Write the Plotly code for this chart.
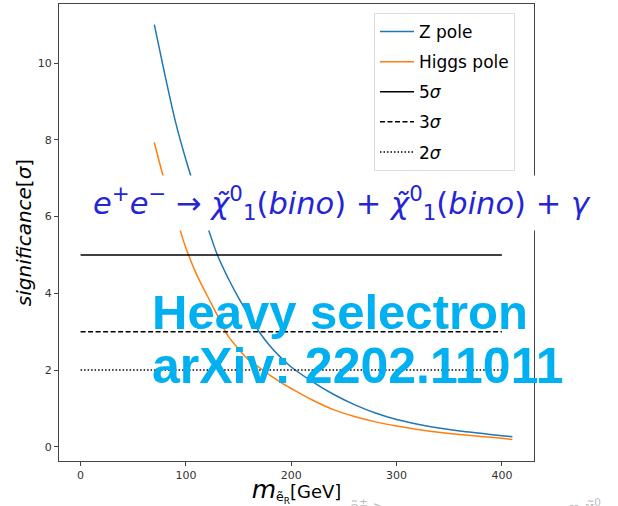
import plotly.graph_objects as go

# ---- data ----
mass = [70, 80, 90, 100, 110, 120, 130, 140, 150, 160, 170, 180, 190, 200,
        220, 240, 260, 280, 300, 320, 340, 360, 380, 400, 410]
z_pole = [11.0, 9.7, 8.48, 7.48, 6.6, 5.78, 4.99, 4.4, 3.88, 3.42, 2.98, 2.62,
          2.33, 2.08, 1.7, 1.37, 1.1, 0.88, 0.71, 0.59, 0.49, 0.41, 0.35, 0.29, 0.26]
higgs_pole = [7.93, 6.9, 6.05, 5.18, 4.5, 3.95, 3.42, 2.89, 2.55, 2.25, 2.06,
              1.86, 1.68, 1.52, 1.22, 0.97, 0.79, 0.65, 0.54, 0.45, 0.38, 0.32,
              0.27, 0.22, 0.19]
sigma_levels = [5, 3, 2]
sigma_names = ["5<i>σ</i>", "3<i>σ</i>", "2<i>σ</i>"]
sigma_dash = ["solid", "5px,2.5px", "1.5px,2px"]
hline_x = [0, 400]
x_ticks = [0, 100, 200, 300, 400]
y_ticks = [0, 2, 4, 6, 8, 10]

fig = go.Figure()
fig.add_trace(go.Scatter(x=mass, y=z_pole, mode="lines", name="Z pole",
                         line=dict(color="#1f77b4", width=1.5, shape="spline"),
                         legendgroup="a"))
fig.add_trace(go.Scatter(x=mass, y=higgs_pole, mode="lines", name="Higgs pole",
                         line=dict(color="#ff7f0e", width=1.5, shape="spline"),
                         legendgroup="b"))
for i, (lvl, nm, ds) in enumerate(zip(sigma_levels, sigma_names, sigma_dash)):
    fig.add_trace(go.Scatter(x=hline_x, y=[lvl, lvl], mode="lines", name=nm,
                             line=dict(color="black", width=1.5, dash=ds),
                             legendgroup="g%d" % i))

W, H = 618, 506
L, R, T, B = 59, 84, 4, 45
pw, ph = W - L - R, H - T - B

def px(xp):
    return (xp - L) / pw

def py(yp):
    return (H - B - yp) / ph

axis_common = dict(showline=True, mirror=True, linecolor="#444", linewidth=1,
                   ticks="outside", ticklen=4, tickcolor="#444", showgrid=False,
                   zeroline=False, tickfont=dict(family="DejaVu Sans", size=11, color="#333"))

fig.update_layout(
    width=W, height=H,
    margin=dict(l=L, r=R, t=T, b=B, autoexpand=False),
    paper_bgcolor="white", plot_bgcolor="white",
    xaxis=dict(range=[-20.5, 430.5], tickvals=x_ticks, **axis_common,
               title=dict(text="<span style=\"font-size:25px\"><i>m</i></span><sub>ẽ<sub>R</sub></sub>[GeV]",
                          font=dict(family="DejaVu Sans", size=18, color="black"),
                          standoff=6)),
    yaxis=dict(range=[-0.37, 11.54], tickvals=y_ticks, **axis_common,
               title=dict(text="<i>significance</i>[<i>σ</i>]",
                          font=dict(family="DejaVu Sans", size=20, color="black"),
                          standoff=0)),
    legend=dict(x=px(374), y=py(13), xanchor="left", yanchor="top",
                bgcolor="white", bordercolor="#dcdcdc", borderwidth=1,
                font=dict(family="DejaVu Sans", size=17, color="black"),
                traceorder="grouped", tracegroupgap=5, itemwidth=34,
                entrywidth=100, entrywidthmode="pixels"),
    showlegend=True,
)

eq = ("<i>e</i><sup>+</sup><i>e</i><sup>−</sup> → <i>χ̃</i><sup>0</sup><sub>1</sub>(<i>bino</i>)"
      " + <i>χ̃</i><sup>0</sup><sub>1</sub>(<i>bino</i>) + <i>γ</i>")
fig.add_annotation(xref="paper", yref="paper", x=px(342), y=py(203),
                   xanchor="center", yanchor="middle", showarrow=False, text=eq,
                   font=dict(family="DejaVu Sans", size=30.5, color="#2525d4"),
                   bgcolor="white", borderpad=5)
fig.add_annotation(xref="paper", yref="paper", x=px(150), y=py(312),
                   xanchor="left", yanchor="middle", showarrow=False,
                   text="Heavy selectron",
                   font=dict(family="Liberation Sans", size=49, color="#00b0f0", weight="bold"))
fig.add_annotation(xref="paper", yref="paper", x=px(150), y=py(366),
                   xanchor="left", yanchor="middle", showarrow=False,
                   text="arXiv: 2202.11011",
                   font=dict(family="Liberation Sans", size=50, color="#00b0f0", weight="bold"))
fig.add_annotation(xref="paper", yref="paper", x=px(348), y=py(494),
                   xanchor="left", yanchor="top", showarrow=False,
                   text="ẽ<sup>±</sup> >",
                   font=dict(family="DejaVu Serif", size=15, color="#bbbbbb"))
fig.add_annotation(xref="paper", yref="paper", x=px(566), y=py(494),
                   xanchor="left", yanchor="top", showarrow=False,
                   text="∞ χ̃<sup>0</sup>",
                   font=dict(family="DejaVu Serif", size=15, color="#bbbbbb"))

fig.write_html("out.html")
